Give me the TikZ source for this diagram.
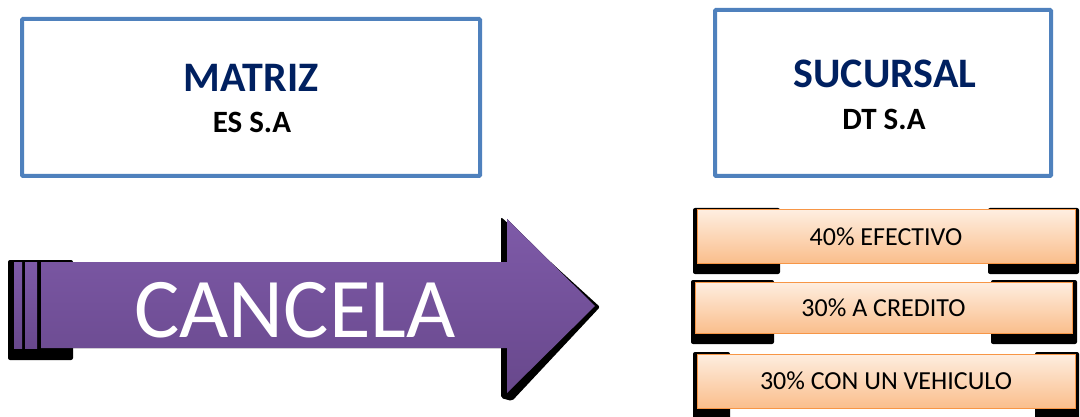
\documentclass[tikz,border=0pt]{standalone}
\usepackage{fontspec}
\setmainfont{Carlito}
\definecolor{boxblue}{RGB}{79,129,189}
\definecolor{navy}{RGB}{0,32,96}
\definecolor{purpletop}{RGB}{126,90,168}
\definecolor{purplebot}{RGB}{104,72,140}
\definecolor{peachtop}{RGB}{254,238,224}
\definecolor{peachbot}{RGB}{250,190,140}
\definecolor{orangeedge}{RGB}{247,150,70}
\begin{document}
\begin{tikzpicture}[x=1pt,y=-1pt,
  entity/.style={draw=boxblue, line width=4pt, fill=white, rounded corners=1pt, inner sep=0pt},
  title/.style={anchor=base, text=navy, font=\bfseries\fontsize{42}{42}\selectfont},
  subtitle/.style={anchor=base, text=black, font=\bfseries\fontsize{31}{31}\selectfont},
  shadowbit/.style={fill=black, rounded corners=2pt},
  purplefill/.style={top color=purpletop, bottom color=purplebot, draw=none},
  option/.style={draw=orangeedge, line width=1pt, top color=peachtop, bottom color=peachbot,
    inner sep=0pt, font=\fontsize{26}{26}\selectfont, text=black},
  bigword/.style={anchor=base, text=white, font=\fontsize{85}{85}\selectfont}]
\useasboundingbox (0,0) rectangle (1080,417);

% --- company boxes ---
\node[entity, minimum width=458pt, minimum height=157pt] (matriz) at (251,97.5) {};
\node[title] (matriztitle) at (251,92) {MATRIZ};
\node[subtitle] (matrizsub) at (252,133) {ES S.A};

\node[entity, minimum width=336pt, minimum height=166pt] (sucursal) at (883,93) {};
\node[title] (sucursaltitle) at (885,88) {SUCURSAL};
\node[subtitle] (sucursalsub) at (884,130) {DT S.A};

% --- striped arrow with its shadow ---
\fill[shadowbit] (8,260) rectangle (73,360);
\fill[shadowbit] (501,217) -- (600,307) -- (512,401) -- (501,398) -- cycle;
\fill[purplefill] (14,262) rectangle (22,348);
\fill[purplefill] (25,262) rectangle (37,348);
\fill[purplefill] (41,262) -- (507,262) -- (507,219) -- (595,306) -- (507,393) -- (507,348) -- (41,348) -- cycle;
\node[bigword] (cancela) at (295,337) {CANCELA};

% --- payment options ---
\fill[shadowbit] (693,208) rectangle (780,274);
\fill[shadowbit] (988,208) rectangle (1079,274);
\node[option, minimum width=378pt, minimum height=53pt] (efectivo) at (886,236.5) {40\% EFECTIVO};

\fill[shadowbit] (691,280) rectangle (774,344);
\fill[shadowbit] (991,280) rectangle (1077,344);
\node[option, minimum width=377pt, minimum height=51pt] (credito) at (883.5,307.5) {30\% A CREDITO};

\fill[shadowbit] (693,352) rectangle (730,420);
\fill[shadowbit] (1035,352) rectangle (1079,420);
\node[option, minimum width=378pt, minimum height=54pt] (vehiculo) at (886,381) {30\% CON UN VEHICULO};
\end{tikzpicture}
\end{document}
